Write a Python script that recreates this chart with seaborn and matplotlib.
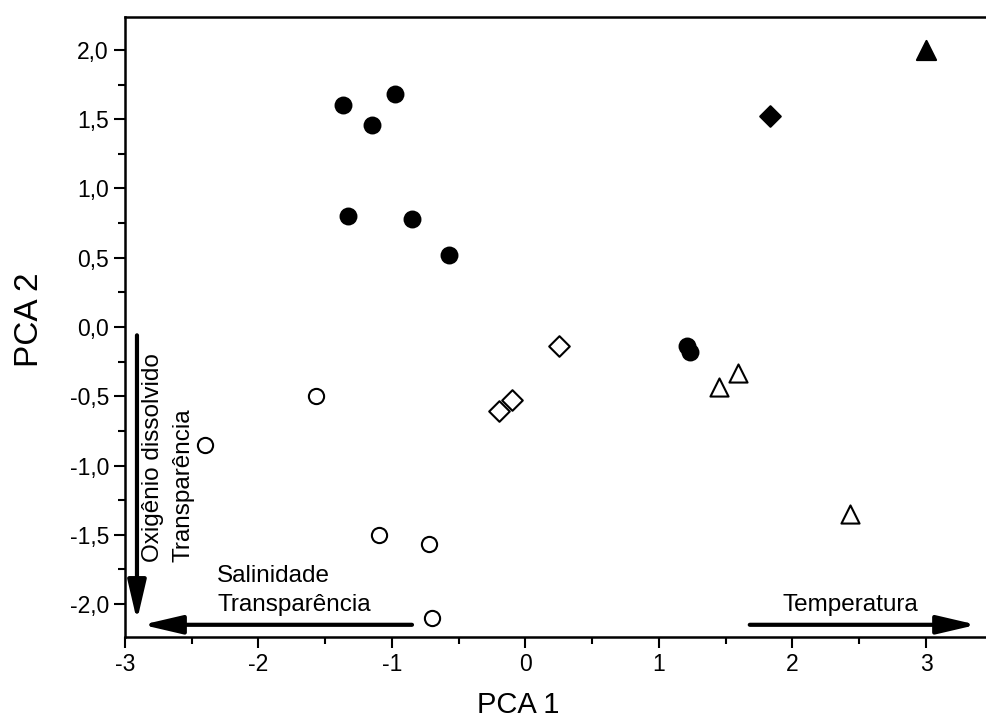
import numpy as np
import pandas as pd
import seaborn as sns
import matplotlib.pyplot as plt
from matplotlib.ticker import MultipleLocator, FuncFormatter

# PCA scores per group
circ_full_x = [-1.37, -1.15, -0.98, -1.33, -0.85, -0.57, 1.21, 1.23]
circ_full_y = [1.60, 1.46, 1.68, 0.80, 0.78, 0.52, -0.14, -0.18]
diam_full_x = [1.83]
diam_full_y = [1.52]
tri_full_x = [3.00]
tri_full_y = [2.00]
circ_open_x = [-1.57, -2.40, -1.10, -0.72, -0.70]
circ_open_y = [-0.50, -0.85, -1.50, -1.57, -2.10]
diam_open_x = [0.25, -0.20, -0.10]
diam_open_y = [-0.14, -0.61, -0.53]
tri_open_x = [1.45, 1.59, 2.43]
tri_open_y = [-0.43, -0.33, -1.35]

sns.set_style("ticks", {'axes.edgecolor': 'black', 'xtick.color': 'black',
                        'ytick.color': 'black', 'text.color': 'black',
                        'axes.labelcolor': 'black'})
plt.rcParams['font.family'] = ['Liberation Sans', 'DejaVu Sans']

fig = plt.figure(figsize=(9.87, 7.2), dpi=100)
ax = fig.add_axes([0.1266, 0.1153, 0.8734, 0.8611])

groups = [
    (circ_full_x, circ_full_y, 'o', 'black', 130),
    (diam_full_x, diam_full_y, 'D', 'black', 110),
    (tri_full_x, tri_full_y, '^', 'black', 190),
    (circ_open_x, circ_open_y, 'o', 'white', 120),
    (diam_open_x, diam_open_y, 'D', 'white', 110),
    (tri_open_x, tri_open_y, '^', 'white', 170),
]
for gx, gy, mk, fc, s in groups:
    d = pd.DataFrame({'x': gx, 'y': gy})
    sns.scatterplot(data=d, x='x', y='y', marker=mk, s=s, color=fc,
                    edgecolor='black', linewidth=1.5, ax=ax, zorder=3)

ax.set_xlim(-3, 3.457)
ax.set_ylim(-2.238, 2.238)
ax.xaxis.set_major_locator(MultipleLocator(1))
ax.xaxis.set_minor_locator(MultipleLocator(0.5))
ax.yaxis.set_major_locator(MultipleLocator(0.5))
ax.yaxis.set_minor_locator(MultipleLocator(0.25))
ax.xaxis.set_major_formatter(FuncFormatter(lambda v, p: f"{v:.0f}"))
ax.yaxis.set_major_formatter(FuncFormatter(lambda v, p: f"{v:.1f}".replace('.', ',')))
ax.tick_params(which='major', length=8, width=1.5, labelsize=16.5, direction='out',
               color='black', labelcolor='black')
ax.tick_params(which='minor', length=5, width=1.5, direction='out', color='black')

for side in ['left', 'bottom', 'top']:
    ax.spines[side].set_linewidth(1.8)
    ax.spines[side].set_color('black')
ax.spines['right'].set_visible(False)

ax.set_xlabel('PCA 1', fontsize=21, color='black')
ax.set_ylabel('PCA 2', fontsize=24, color='black')
ax.xaxis.set_label_coords(0.456, -0.087)
ax.yaxis.set_label_coords(-0.093, 0.511)

arrow = dict(arrowstyle='-|>,head_length=1.2,head_width=0.28', lw=3,
             color='black', mutation_scale=20, shrinkA=0, shrinkB=0)
ax.annotate('', xy=(-2.91, -2.12), xytext=(-2.91, -0.06), arrowprops=arrow)
ax.annotate('', xy=(-2.87, -2.15), xytext=(-0.85, -2.15), arrowprops=arrow)
ax.annotate('', xy=(3.38, -2.15), xytext=(1.68, -2.15), arrowprops=arrow)

ax.text(-2.79, -1.70, 'Oxigênio dissolvido', rotation=90, fontsize=17.5,
        ha='center', va='bottom')
ax.text(-2.558, -1.70, 'Transparência', rotation=90, fontsize=17.5,
        ha='center', va='bottom')
ax.text(-2.31, -1.80, 'Salinidade', fontsize=17.5, ha='left', va='center')
ax.text(-2.31, -2.01, 'Transparência', fontsize=17.5, ha='left', va='center')
ax.text(2.43, -2.01, 'Temperatura', fontsize=17.5, ha='center', va='center')

fig.savefig('out.png', dpi=100)
